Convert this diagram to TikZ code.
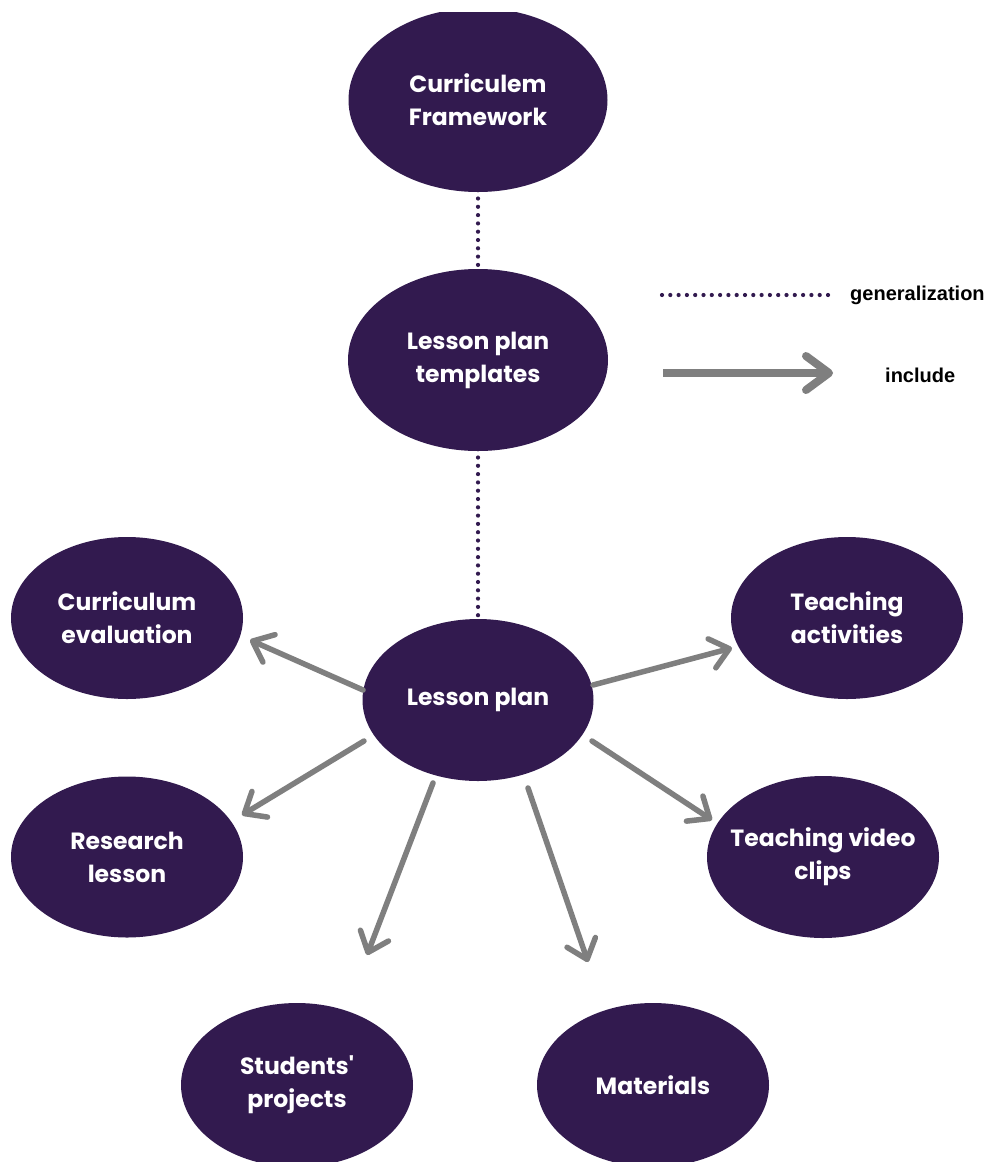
\documentclass[tikz,border=0pt]{standalone}
\usepackage{fontspec}
\setmainfont{Poppins}
\newfontfamily\quotefont{Poppins}[Ligatures=TeXOff]
\newfontfamily\legfont{Liberation Sans}
\usetikzlibrary{arrows.meta,shapes.geometric}
\definecolor{purp}{HTML}{321A4F}
\definecolor{arrgray}{HTML}{7F7F7F}
\tikzset{
  bubble/.style={ellipse, fill=purp, draw=none, inner xsep=-20pt, inner ysep=0pt, text=white,
    align=center, font=\fontsize{23.5}{33}\selectfont\bfseries},
  genline/.style={draw=purp, line width=4.2pt, line cap=round,
    dash pattern=on 0pt off 8.3pt},
  incarrow/.style={draw=arrgray, line width=5.5pt, line cap=round,
    -{Straight Barb[length=18pt,width=30pt,line cap=round,line join=round]}},
  legarrow/.style={draw=arrgray, line width=8pt,
    -{Straight Barb[length=23pt,width=34pt,line cap=round,line join=round]}},
  legtxt/.style={anchor=west, inner sep=0pt, font=\legfont\fontsize{20}{22}\selectfont\bfseries}
}
\begin{document}
\begin{tikzpicture}[x=1pt,y=-1pt]
\useasboundingbox (0,0) rectangle (987,1162);
\fill[white] (0,0) rectangle (987,1162);
\begin{scope}
\clip (0,12) rectangle (987,1162);
\node[bubble, minimum width=259pt, minimum height=184pt] (cf) at (478,100) {Curriculem\\Framework};
\node[bubble, minimum width=260pt, minimum height=182pt] (lpt) at (478,360) {Lesson plan\\templates};
\node[bubble, minimum width=232pt, minimum height=162pt] (ce) at (127,618) {Curriculum\\evaluation};
\node[bubble, minimum width=231pt, minimum height=162pt] (lp) at (478,700) {Lesson plan};
\node[bubble, minimum width=232pt, minimum height=162pt] (ta) at (847,618) {Teaching\\activities};
\node[bubble, minimum width=232pt, minimum height=161pt] (rl) at (127,857) {Research\\lesson};
\node[bubble, minimum width=232pt, minimum height=162pt] (tv) at (823,857) {Teaching video\\clips};
\node[bubble, minimum width=232pt, minimum height=164pt] (sp) at (297,1085) {Students{\quotefont '}\\projects};
\node[bubble, minimum width=232pt, minimum height=164pt] (ma) at (653,1085) {Materials};
\end{scope}

% generalization (dotted)
\draw[genline] ([yshift=2pt]cf.south) -- (lpt.north);
\draw[genline] ([yshift=2pt]lpt.south) -- ([yshift=-8pt]lp.north);

% include arrows
\draw[incarrow] ([shift={(-115,-10)}]lp.center) -- ([shift={(123,22)}]ce.center);
\draw[incarrow] ([shift={(-114,41)}]lp.center) -- ([shift={(115,-42)}]rl.center);
\draw[incarrow] ([shift={(-45,83)}]lp.center) -- ([shift={(70,-130)}]sp.center);
\draw[incarrow] ([shift={(50,88)}]lp.center) -- ([shift={(-65,-123)}]ma.center);
\draw[incarrow] ([shift={(115,-15)}]lp.center) -- ([shift={(-115,30)}]ta.center);
\draw[incarrow] ([shift={(114,41)}]lp.center) -- ([shift={(-111,-37)}]tv.center);

% legend
\coordinate (g1) at (662,295);
\coordinate (g2) at (830,295);
\draw[genline] (g1) -- (g2);
\node[legtxt] (lgen) at (850,295) {generalization};
\coordinate (i1) at (663,373);
\coordinate (i2) at (833,373);
\draw[legarrow] (i1) -- (i2);
\node[legtxt] (linc) at (885,375) {include};
\end{tikzpicture}
\end{document}
